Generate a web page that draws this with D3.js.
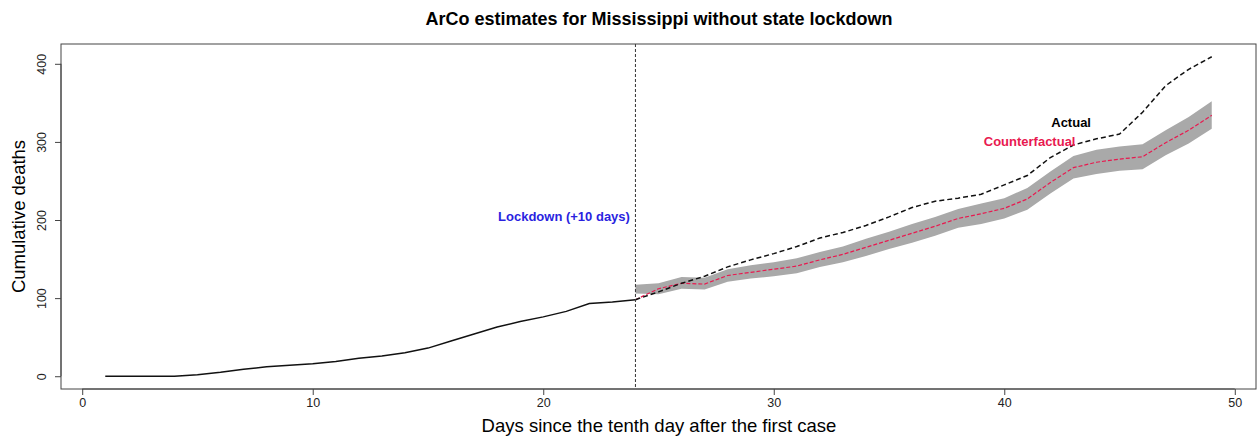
<!DOCTYPE html>
<html>
<head>
<meta charset="utf-8">
<script src="https://cdn.jsdelivr.net/npm/d3@7"></script>
<style>
    body { margin: 0; background: #fff; }
    svg text { font-family: "Liberation Sans", Arial, sans-serif; }
</style>
</head>
<body>
<svg id="chart_svg" width="1258" height="438"></svg>
<script>
// pre-lockdown observed deaths
const g_pre_days = [1, 2, 3, 4, 5, 6, 7, 8, 9, 10, 11, 12, 13, 14, 15, 16, 17, 18, 19, 20, 21, 22, 23, 24];
const g_pre_deaths = [0, 0, 0, 0, 2, 5, 9, 12, 14, 16, 19, 23, 26, 30, 36, 45, 54, 63, 70, 76, 83, 93, 95, 98];

// post-lockdown: actual, counterfactual and its band
const g_post_days = [24, 25, 26, 27, 28, 29, 30, 31, 32, 33, 34, 35, 36, 37, 38, 39, 40, 41, 42, 43, 44, 45, 46, 47, 48, 49];
const g_actual = [98, 108, 119, 128, 140, 149, 157, 166, 177, 184, 193, 204, 216, 224, 228, 233, 245, 257, 280, 296, 304, 310, 338, 372, 393, 409];
const g_counter = [98, 112, 119, 118, 129, 133, 137, 141, 149, 156, 165, 174, 183, 192, 202, 208, 215, 227, 248, 267, 274, 278, 281, 299, 315, 334];
const g_lower = [106, 105, 112, 111, 121, 125, 128, 132, 140, 146, 154, 163, 171, 180, 190, 195, 202, 213, 234, 253, 259, 263, 265, 283, 298, 317];
const g_upper = [117, 119, 127, 126, 137, 142, 146, 151, 159, 166, 176, 185, 195, 204, 214, 221, 228, 241, 262, 282, 290, 294, 297, 315, 332, 352];

// axis ticks and texts
const g_x_ticks = [0, 10, 20, 30, 40, 50];
const g_y_ticks = [0, 100, 200, 300, 400];
const g_lockdown_day = 24;
const g_labels = [
    { text: "Actual", x: 42.9, y: 325, color: "#000000" },
    { text: "Counterfactual", x: 41.1, y: 300, color: "#e8194f" },
    { text: "Lockdown (+10 days)", x: 20.9, y: 205, color: "#2a1fe0" }
];

draw_chart();

function draw_chart() {
    var svg = d3.select("#chart_svg");
    var box = { l: 61, r: 1256, t: 44, b: 389 };

    // R style scales: data range widened by 4%
    var x_ext = d3.extent(g_pre_days.concat(g_post_days));
    var y_ext = [0, d3.max(g_actual.concat(g_upper))];
    var x_pad = (x_ext[1] - x_ext[0]) * 0.04, y_pad = (y_ext[1] - y_ext[0]) * 0.04;
    var xs = d3.scaleLinear().domain([x_ext[0] - x_pad, x_ext[1] + x_pad]).range([box.l, box.r]);
    var ys = d3.scaleLinear().domain([y_ext[0] - y_pad, y_ext[1] + y_pad]).range([box.b, box.t]);

    // title
    svg.append("text").attr("x", 659).attr("y", 25).attr("text-anchor", "middle")
        .style("font-size", "18px").style("font-weight", "bold").text("ArCo estimates for Mississippi without state lockdown");

    // band of counterfactual
    var band = g_post_days.map((d, i) => ({ x: d, lo: g_lower[i], hi: g_upper[i] }));
    svg.append("path").datum(band)
        .attr("d", d3.area().x(d => xs(d.x)).y0(d => ys(d.lo)).y1(d => ys(d.hi)))
        .attr("style", "fill:#a9a9a9; stroke:none");

    // pre-lockdown line
    svg.append("path").datum(g_pre_days.map((d, i) => [d, g_pre_deaths[i]]))
        .attr("d", d3.line().x(d => xs(d[0])).y(d => ys(d[1])))
        .attr("style", "fill:none; stroke:#111; stroke-width:1.5");

    // counterfactual line
    svg.append("path").datum(g_post_days.map((d, i) => [d, g_counter[i]]))
        .attr("d", d3.line().x(d => xs(d[0])).y(d => ys(d[1])))
        .attr("style", "fill:none; stroke:#e8194f; stroke-width:1.2; stroke-dasharray:4,2");

    // actual line
    svg.append("path").datum(g_post_days.map((d, i) => [d, g_actual[i]]))
        .attr("d", d3.line().x(d => xs(d[0])).y(d => ys(d[1])))
        .attr("style", "fill:none; stroke:#111; stroke-width:1.5; stroke-dasharray:5,3");

    // lockdown line
    svg.append("line").attr("x1", xs(g_lockdown_day)).attr("x2", xs(g_lockdown_day))
        .attr("y1", box.t).attr("y2", box.b)
        .attr("style", "stroke:#333; stroke-width:1; stroke-dasharray:3,2");

    // annotations
    svg.selectAll(".note").data(g_labels).join("text").classed("note", true)
        .attr("x", d => xs(d.x)).attr("y", d => ys(d.y) + 4.5).attr("text-anchor", "middle")
        .style("font-size", "13px").style("font-weight", "bold").style("fill", d => d.color)
        .text(d => d.text);

    // box
    svg.append("rect").attr("x", box.l).attr("y", box.t).attr("width", box.r - box.l).attr("height", box.b - box.t)
        .attr("style", "fill:none; stroke:#444; stroke-width:1");

    // x axis
    var gx = svg.append("g").attr("transform", "translate(0," + box.b + ")")
        .call(d3.axisBottom(xs).tickValues(g_x_ticks).tickSize(6).tickPadding(3).tickFormat(d3.format("d")));
    gx.select(".domain").attr("d", "M" + xs(g_x_ticks[0]) + ",0H" + xs(last_of(g_x_ticks)));
    gx.selectAll("text").style("font-size", "12.5px").style("fill", "#222");
    gx.selectAll("line, path").style("stroke", "#444");

    // y axis, labels turned like R
    var gy = svg.append("g").attr("transform", "translate(" + box.l + ",0)")
        .call(d3.axisLeft(ys).tickValues(g_y_ticks).tickSize(6).tickFormat(d3.format("d")));
    gy.select(".domain").attr("d", "M0," + ys(g_y_ticks[0]) + "V" + ys(last_of(g_y_ticks)));
    gy.selectAll("text").attr("x", null).attr("dy", null)
        .attr("transform", "translate(-15,0) rotate(-90)").attr("text-anchor", "middle")
        .style("font-size", "12.5px").style("fill", "#222");
    gy.selectAll("line, path").style("stroke", "#444");

    // axis titles
    svg.append("text").attr("x", 659).attr("y", 432).attr("text-anchor", "middle")
        .style("font-size", "18.5px").text("Days since the tenth day after the first case");
    svg.append("text").attr("transform", "translate(25," + ((box.t + box.b) / 2) + ") rotate(-90)")
        .attr("text-anchor", "middle").style("font-size", "18.5px").text("Cumulative deaths");
}

function last_of(p_arr) {
    return p_arr[p_arr.length - 1];
}
</script>
</body>
</html>
